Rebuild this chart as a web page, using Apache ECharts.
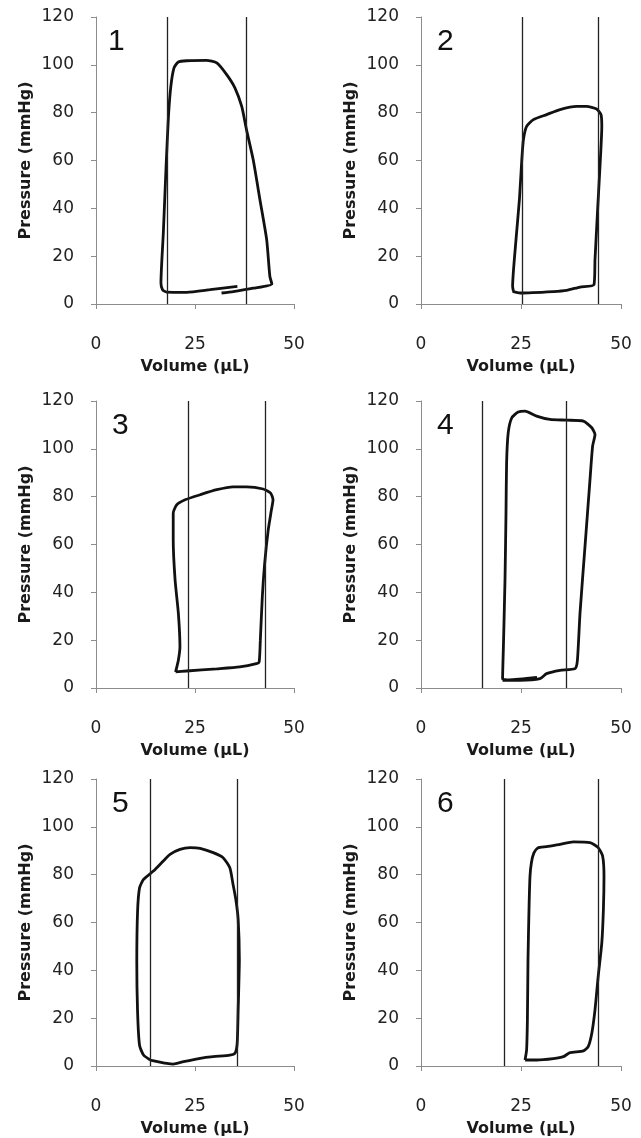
<!DOCTYPE html>
<html>
<head>
<meta charset="utf-8">
<script src="https://cdn.jsdelivr.net/npm/echarts@6/dist/echarts.min.js"></script>
<style>
  html, body { margin: 0; padding: 0; background: #fff; }
  #chart { width: 641px; height: 1138px; }
</style>
</head>
<body>
<div id="chart"></div>
<script>
// pressure-volume loops, [volume uL, pressure mmHg]
var loop1 = [[31.7,4.6],[34.7,5.2],[39.7,6.6],[44.4,8.4],[43.9,11.6],[43.1,26.9],[41.4,43.6],[39.7,60.3],[38.0,72.9],[36.8,82.6],[35.1,90.3],[33.0,95.9],[30.5,100.8],[27.9,101.9],[22.9,101.7],[20.8,101.2],[19.7,98.7],[18.9,91.0],[18.3,78.5],[17.7,57.6],[17.0,29.7],[16.4,8.8],[16.8,6.0],[17.8,5.0],[22.9,4.9],[28.8,6.0],[35.7,7.4]];
var loop2 = [[22.9,5.3],[24.8,4.6],[33.1,5.2],[36.4,5.7],[39.75,7.1],[43.25,8.1],[43.5,18.5],[44.2,40.8],[44.75,57.6],[45.2,74.3],[45.0,79.2],[43.9,81.5],[41.4,82.6],[38.9,82.6],[34.75,81.3],[31.4,79.2],[28.1,77.1],[26.4,74.3],[25.6,68.7],[25.2,60.3],[24.6,43.6],[23.75,26.9],[22.9,7.4],[23.1,5.3]];
var loop3 = [[20.1,6.7],[22.9,7.1],[30.5,8.0],[36.3,8.8],[40.5,10.2],[41.2,10.9],[41.5,20.0],[42.0,38.2],[42.6,52.2],[43.5,66.2],[44.3,74.5],[44.7,78.7],[44.1,81.5],[42.2,83.2],[38.0,84.1],[34.6,84.1],[30.5,82.9],[26.3,80.8],[22.5,78.7],[20.4,76.6],[19.5,73.1],[19.5,62.0],[19.97,45.2],[20.8,31.2],[21.2,17.2],[20.8,11.6],[20.2,7.4],[20.1,6.7]];
var loop4 = [[20.4,3.2],[24.75,3.2],[29.75,3.9],[31.4,6.0],[34.75,7.4],[38.5,8.1],[39.1,11.6],[39.75,31.2],[41.0,59.2],[42.25,87.1],[42.9,101.1],[43.5,106.0],[42.7,108.8],[40.6,111.6],[36.4,112.0],[32.25,112.3],[28.9,113.7],[26.0,115.8],[24.3,115.4],[22.7,113.0],[21.8,106.7],[21.4,94.1],[21.25,73.1],[21.0,45.2],[20.6,17.2],[20.4,3.9],[22.0,3.4],[29.0,4.4]];
var loop5 = [[13.7,2.5],[17.9,1.1],[19.5,0.8],[22.1,1.8],[26.3,3.2],[29.6,3.9],[33.8,4.5],[35.1,5.3],[35.65,9.5],[35.9,23.5],[36.2,44.5],[35.9,61.3],[35.3,69.7],[34.6,76.0],[33.8,82.9],[32.1,87.1],[29.6,89.2],[26.3,91.0],[23.8,91.3],[21.2,90.6],[18.7,88.5],[17.0,85.7],[14.5,81.5],[12.0,78.0],[11.0,74.5],[10.5,64.7],[10.3,43.6],[10.5,22.6],[11.0,8.6],[12.0,4.6],[13.7,2.5]];
var loop6 = [[26.0,2.5],[28.9,2.5],[33.1,3.1],[35.6,3.9],[37.25,5.6],[40.6,6.3],[41.8,8.1],[42.7,13.7],[43.5,23.5],[44.3,37.5],[45.2,51.5],[45.6,65.5],[45.75,79.4],[45.4,87.8],[44.3,91.3],[42.25,93.4],[38.1,93.7],[34.75,92.7],[31.4,91.7],[29.2,91.2],[28.2,89.0],[27.6,85.0],[27.25,79.4],[27.0,65.5],[26.75,44.5],[26.6,19.3],[26.4,6.7],[26.0,2.5]];

var loops = [loop1, loop2, loop3, loop4, loop5, loop6];
var panelNames = ['1', '2', '3', '4', '5', '6'];
// vertical reference lines (volume)
var lineLeft = [18.0, 25.2, 23.2, 15.3, 13.6, 20.8];
var lineRight = [37.9, 44.4, 42.8, 36.4, 35.6, 44.4];

var lefts = [96, 421];
var widths = [198, 200];
var tops = [17, 401, 779];
var gridH = 287;

var chart = echarts.init(document.getElementById('chart'));

var grids = [], xAxes = [], yAxes = [], series = [], titles = [];
var labelFont = 'DejaVu Sans';

for (var i = 0; i < 6; i++) {
  var col = i % 2, row = Math.floor(i / 2);
  grids.push({
    left: lefts[col], top: tops[row], width: widths[col], height: gridH,
    containLabel: false, outerBoundsMode: 'none'
  });
  xAxes.push({
    gridIndex: i, type: 'value', min: 0, max: 50, interval: 25,
    name: 'Volume (µL)', nameLocation: 'middle', nameGap: 55,
    nameTextStyle: { fontFamily: labelFont, fontWeight: 'bold', fontSize: 16, color: '#1a1a1a' },
    axisLine: { lineStyle: { color: '#8c8c8c', width: 1 } },
    axisTick: { show: true, length: 5, lineStyle: { color: '#8c8c8c' } },
    axisLabel: { margin: 32, fontFamily: labelFont, fontSize: 17, color: '#222' },
    splitLine: { show: false }
  });
  yAxes.push({
    gridIndex: i, type: 'value', min: 0, max: 120, interval: 20,
    name: 'Pressure (mmHg)', nameLocation: 'middle', nameGap: 62,
    nameTextStyle: { fontFamily: labelFont, fontWeight: 'bold', fontSize: 16, color: '#1a1a1a' },
    axisLine: { show: true, lineStyle: { color: '#8c8c8c', width: 1 } },
    axisTick: { show: true, length: 5, lineStyle: { color: '#8c8c8c' } },
    axisLabel: { margin: 22, fontFamily: labelFont, fontSize: 17, color: '#222' },
    splitLine: { show: false }
  });
  series.push({
    type: 'line', xAxisIndex: i, yAxisIndex: i,
    data: loops[i], symbol: 'none', smooth: 0.2,
    lineStyle: { color: '#111', width: 2.8 },
    markLine: {
      silent: true, symbol: 'none', label: { show: false },
      lineStyle: { color: '#222', width: 1.3, type: 'solid' },
      data: [{ xAxis: lineLeft[i] }, { xAxis: lineRight[i] }]
    },
    animation: false
  });
  titles.push({
    text: panelNames[i],
    left: lefts[col] + (i === 0 ? 7 : 11), top: tops[row] + 5,
    textStyle: { fontFamily: 'Liberation Sans', fontWeight: 'normal', fontSize: 30, color: '#111' }
  });
}

chart.setOption({
  animation: false,
  backgroundColor: '#fff',
  title: titles,
  grid: grids,
  xAxis: xAxes,
  yAxis: yAxes,
  series: series
});
</script>
</body>
</html>
